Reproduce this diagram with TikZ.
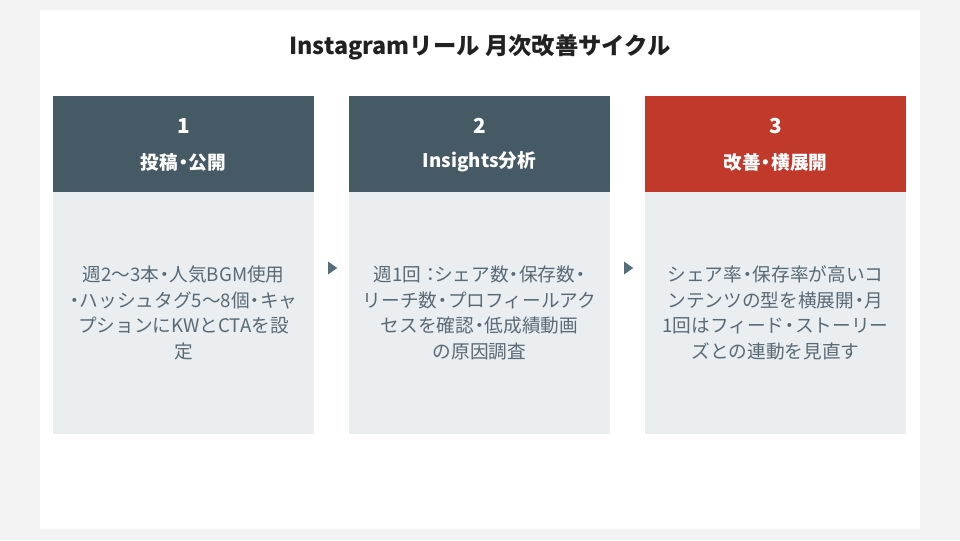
\documentclass[tikz,border=0pt]{standalone}
\usepackage{fontspec}
\setmainfont{Noto Sans CJK JP}
\usepackage{tikz}
\usetikzlibrary{shapes.geometric}
\definecolor{pagebg}{HTML}{F3F3F3}
\definecolor{headslate}{HTML}{465A65}
\definecolor{headred}{HTML}{C0392B}
\definecolor{bodybg}{HTML}{EAEEF1}
\definecolor{bodytext}{HTML}{5A6A74}
\definecolor{arrowgray}{HTML}{546E7A}
\newcommand{\nd}{\kern-.22em・\kern-.22em}
\tikzset{
  headbox/.style={rectangle, inner sep=0pt, minimum width=195.75pt, minimum height=72pt},
  bodybox/.style={rectangle, fill=bodybg, inner sep=0pt, minimum width=195.75pt, minimum height=181.5pt},
  steptext/.style={text=white, font=\bfseries\fontsize{15.5pt}{18pt}\selectfont},
  headtext/.style={text=white, font=\bfseries\fontsize{14pt}{16pt}\selectfont},
  bodytextnode/.style={text=bodytext, align=center, font=\fontsize{14pt}{19.2pt}\selectfont},
  flowtip/.style={isosceles triangle, isosceles triangle apex angle=70, fill=arrowgray, inner sep=0pt, minimum height=6.8pt, minimum width=7.5pt}
}

\begin{document}
\begin{tikzpicture}[x=0.75pt, y=-0.75pt]
\fill[pagebg] (0,0) rectangle (960,540);
\fill[white] (40,10) rectangle (920,529);
\useasboundingbox (0,0) rectangle (960,540);
\node[font=\bfseries\fontsize{17.5pt}{20pt}\selectfont, text=black!87] (title) at (480,47) {Instagramリール 月次改善サイクル};

\foreach \n/\cx/\hcol/\label/\body in {
1/183.5/headslate/投稿\nd 公開/{週2〜3本\nd 人気BGM使用\\\nd ハッシュタグ5〜8個\nd キャ\\プションにKWとCTAを設\\定},
2/479.5/headslate/Insights分析/{週1回：\kern-.3em シェア数\nd 保存数\nd\\リーチ数\nd プロフィールアク\\セスを確認\nd 低成績動画\\の原因調査},
3/775.5/headred/改善\nd 横展開/{シェア率\nd 保存率が高いコ\\ンテンツの型を横展開\nd 月\\1回はフィード\nd ストーリー\\ズとの連動を見直す}} {
  \node[headbox, fill=\hcol] (head\n) at (\cx,144) {};
  \node[steptext] (num\n) at (\cx,126) {\n};
  \node[headtext] (label\n) at (\cx,162) {\label};
  \node[bodybox] (body\n) at (\cx,313) {};
  \node[bodytextnode] (text\n) at (\cx,313) {\body};
}

\node[flowtip] (tip1) at (331.5,268) {};
\node[flowtip] (tip2) at (627.5,268) {};
\end{tikzpicture}
\end{document}
